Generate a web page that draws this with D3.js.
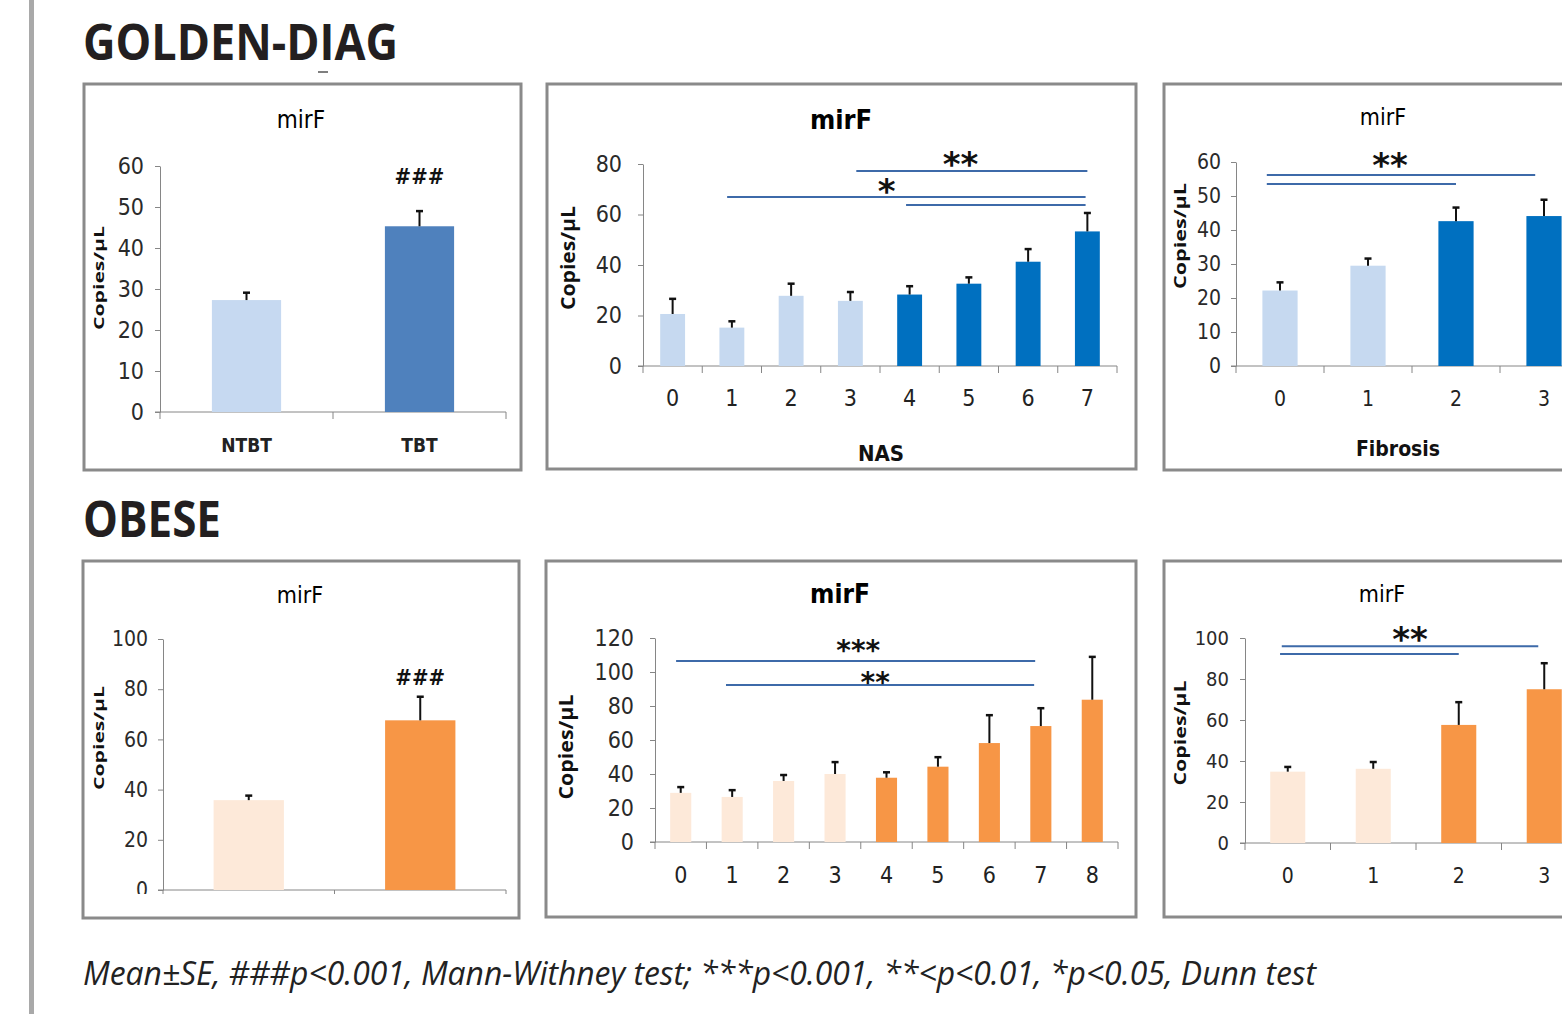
<!DOCTYPE html>
<html>
<head>
<meta charset="utf-8">
<script src="https://cdn.jsdelivr.net/npm/d3@7"></script>
<style>
  html, body { margin: 0; padding: 0; background: #fff; }
  svg { display: block; }
</style>
</head>
<body>
<div id="chart"></div>
<script>
// ---- data ----
const binCats = ["NTBT", "TBT"];
const nasCatsGD = ["0", "1", "2", "3", "4", "5", "6", "7"];
const nasCatsOB = ["0", "1", "2", "3", "4", "5", "6", "7", "8"];
const fibCats = ["0", "1", "2", "3"];

const gdBinMean = [27.3, 45.3];
const gdBinErr = [1.8, 3.7];
const gdNasMean = [20.6, 15.2, 27.8, 25.8, 28.3, 32.6, 41.3, 53.3];
const gdNasErr = [6.0, 2.5, 4.8, 3.5, 3.3, 2.5, 5.0, 7.3];
const gdFibMean = [22.2, 29.5, 42.6, 44.1];
const gdFibErr = [2.4, 2.1, 4.0, 4.8];

const obBinMean = [35.8, 67.6];
const obBinErr = [1.8, 9.4];
const obNasMean = [28.9, 26.5, 35.9, 40.0, 37.8, 44.3, 58.2, 68.2, 83.7];
const obNasErr = [3.4, 4.0, 3.5, 7.0, 3.2, 5.6, 16.4, 10.5, 25.2];
const obFibMean = [34.8, 36.2, 57.6, 75.0];
const obFibErr = [2.3, 3.3, 11.1, 12.7];

// significance bars: from/to in category units, level in data units
const gdNasSig = [
  {from: 3.1, to: 7.0, level: 77.2},
  {from: 0.92, to: 6.97, level: 66.9},
  {from: 3.94, to: 6.97, level: 63.8}
];
const gdNasStars = [{text: "**", at: 4.86, level: 81.8}, {text: "*", at: 3.61, level: 71.2}];
const gdFibSig = [{from: -0.15, to: 2.9, level: 56.2}, {from: -0.15, to: 2.0, level: 53.5}];
const gdFibStars = [{text: "**", at: 1.25, level: 60.6}];
const obNasSig = [{from: -0.09, to: 6.89, level: 106.5}, {from: 0.88, to: 6.87, level: 92.4}];
const obNasStars = [{text: "***", at: 3.45, level: 115.5}, {text: "**", at: 3.78, level: 96.2}];
const obFibSig = [{from: -0.07, to: 2.93, level: 96.0}, {from: -0.09, to: 2.0, level: 92.2}];
const obFibStars = [{text: "**", at: 1.43, level: 102.0}];
const gdBinHash = 57.6;
const obBinHash = 84.9;

const footnote = "Mean±SE, ###p<0.001, Mann-Withney test; ***p<0.001, **<p<0.01, *p<0.05, Dunn test";

// ---- styles ----
const NARROW = "'Liberation Sans Narrow', 'DejaVu Sans Condensed', 'Liberation Sans', sans-serif";
const OPEN = "'Open Sans', 'Noto Sans', sans-serif";
const AXIS = "#868686";
const SIGBLUE = "#3d6aa9";

const W = 1562, H = 1014;
const svg = d3.select("#chart").append("svg").attr("width", W).attr("height", H);

svg.append("rect").attr("x", 29).attr("y", 0).attr("width", 5).attr("height", H).attr("fill", "#a9a9a9");

svg.append("text").attr("x", 83).attr("y", 60).text("GOLDEN-DIAG")
  .attr("textLength", 315).attr("lengthAdjust", "spacingAndGlyphs")
  .style("font-family", OPEN).style("font-weight", 700).style("font-size", "50px").style("fill", "#231f20");
svg.append("line").attr("x1", 318).attr("x2", 328).attr("y1", 72).attr("y2", 72).attr("stroke", "#555").attr("stroke-width", 1.5);
svg.append("text").attr("x", 83).attr("y", 537).text("OBESE")
  .attr("textLength", 138).attr("lengthAdjust", "spacingAndGlyphs")
  .style("font-family", OPEN).style("font-weight", 700).style("font-size", "50px").style("fill", "#231f20");

svg.append("text").attr("x", 83).attr("y", 985).text(footnote)
  .attr("textLength", 1233).attr("lengthAdjust", "spacingAndGlyphs")
  .style("font-family", OPEN).style("font-style", "italic").style("font-size", "33px").style("fill", "#222");

const panels = [
  {box: [84, 84, 437, 386], x0: 160, x1: 506, yTop: 166, yBot: 412, yMax: 60, step: 10,
   cats: binCats, mean: gdBinMean, err: gdBinErr, colors: ["#c6d9f1", "#4f81bd"], darkFrom: 1, barFrac: 0.40,
   tickFont: 23, tickGap: 16, title: {x: 301, y: 128, size: 24, weight: 400}, ylab: {x: 104, y: 278, len: 104, size: 15},
   catLab: {y: 452, size: 19, weight: 700}, hash: "###", hashLevel: gdBinHash, sig: [], stars: []},
  {box: [547, 84, 589, 385], x0: 643, x1: 1117, yTop: 164, yBot: 366, yMax: 80, step: 20,
   cats: nasCatsGD, mean: gdNasMean, err: gdNasErr, colors: ["#c6d9f0", "#0070c0"], darkFrom: 4, barFrac: 0.42,
   tickFont: 23, tickGap: 21, title: {x: 841, y: 129, size: 27, weight: 700}, ylab: {x: 575, y: 258, len: 104, size: 20},
   catLab: {y: 406, size: 23, weight: 400}, xTitle: {text: "NAS", x: 881, y: 461, size: 22},
   sig: gdNasSig, stars: gdNasStars, starSize: 34},
  {box: [1164, 84, 430, 386], x0: 1236, x1: 1588, yTop: 162, yBot: 366, yMax: 60, step: 10,
   cats: fibCats, mean: gdFibMean, err: gdFibErr, colors: ["#c6d9f0", "#0070c0"], darkFrom: 2, barFrac: 0.40,
   tickFont: 21, tickGap: 15, title: {x: 1383, y: 125, size: 23, weight: 400}, ylab: {x: 1186, y: 236, len: 106, size: 16},
   catLab: {y: 406, size: 21, weight: 400}, xTitle: {text: "Fibrosis", x: 1398, y: 456, size: 21},
   sig: gdFibSig, stars: gdFibStars, starSize: 34},
  {box: [83, 561, 436, 357], x0: 163, x1: 506, yTop: 639, yBot: 890, yMax: 100, step: 20,
   cats: binCats, mean: obBinMean, err: obBinErr, colors: ["#fde9d9", "#f79646"], darkFrom: 1, barFrac: 0.41,
   tickFont: 21, tickGap: 15, title: {x: 300, y: 603, size: 23, weight: 400}, ylab: {x: 104, y: 738, len: 104, size: 15},
   catLab: null, hash: "###", hashLevel: obBinHash, clipBottom: 894, sig: [], stars: []},
  {box: [546, 561, 590, 356], x0: 655, x1: 1118, yTop: 638, yBot: 842, yMax: 120, step: 20,
   cats: nasCatsOB, mean: obNasMean, err: obNasErr, colors: ["#fde9d9", "#f79646"], darkFrom: 4, barFrac: 0.41,
   tickFont: 23, tickGap: 21, title: {x: 840, y: 603, size: 26, weight: 700}, ylab: {x: 573, y: 747, len: 105, size: 20},
   catLab: {y: 883, size: 23, weight: 400}, sig: obNasSig, stars: obNasStars, starSize: 28},
  {box: [1164, 561, 430, 356], x0: 1245, x1: 1587, yTop: 638, yBot: 843, yMax: 100, step: 20,
   cats: fibCats, mean: obFibMean, err: obFibErr, colors: ["#fde9d9", "#f79646"], darkFrom: 2, barFrac: 0.41,
   tickFont: 20, tickGap: 16, title: {x: 1382, y: 602, size: 23, weight: 400}, ylab: {x: 1186, y: 733, len: 105, size: 16},
   catLab: {y: 883, size: 21, weight: 400}, sig: obFibSig, stars: obFibStars, starSize: 34}
];

panels.forEach((p, pi) => drawPanel(p, pi));

function drawPanel(p, pi) {
  const [bx, by, bw, bh] = p.box;
  svg.append("rect").attr("x", bx).attr("y", by).attr("width", bw).attr("height", bh)
    .attr("fill", "#fff").attr("stroke", "#8a8a8a").attr("stroke-width", 3);

  let g = svg.append("g");
  if (p.clipBottom) {
    svg.append("clipPath").attr("id", "clip" + pi).append("rect")
      .attr("x", bx).attr("y", by).attr("width", bw).attr("height", p.clipBottom - by);
    g.attr("clip-path", `url(#clip${pi})`);
  }

  const x = d3.scaleBand().domain(p.cats).range([p.x0, p.x1]).padding(0);
  const y = d3.scaleLinear().domain([0, p.yMax]).range([p.yBot, p.yTop]);
  const stepW = x.step();
  const barW = stepW * p.barFrac;
  const cx = i => p.x0 + (i + 0.5) * stepW;

  // title
  g.append("text").attr("x", p.title.x).attr("y", p.title.y).attr("text-anchor", "middle").text("mirF")
    .style("font-family", NARROW).style("font-size", p.title.size + "px").style("font-weight", p.title.weight).style("fill", "#000");

  // y axis
  const yAxis = d3.axisLeft(y).tickValues(d3.range(0, p.yMax + 1, p.step))
    .tickSize(5).tickSizeOuter(0).tickPadding(p.tickGap - 5);
  const ya = g.append("g").attr("transform", `translate(${p.x0},0)`).call(yAxis);
  ya.select(".domain").attr("stroke", AXIS);
  ya.selectAll(".tick line").attr("stroke", AXIS);
  ya.selectAll(".tick text").style("font-family", NARROW).style("font-size", p.tickFont + "px").style("fill", "#2a2a2a");

  // x axis line + boundary ticks
  g.append("line").attr("x1", p.x0 - 5).attr("x2", p.x1).attr("y1", p.yBot).attr("y2", p.yBot).attr("stroke", AXIS);
  g.selectAll(null).data(d3.range(p.cats.length + 1)).join("line")
    .attr("x1", i => p.x0 + i * stepW).attr("x2", i => p.x0 + i * stepW)
    .attr("y1", p.yBot).attr("y2", p.yBot + 7).attr("stroke", AXIS);

  // bars
  g.selectAll(null).data(p.mean).join("rect")
    .attr("x", (d, i) => x(p.cats[i]) + (stepW - barW) / 2)
    .attr("y", d => y(d)).attr("width", barW).attr("height", d => p.yBot - y(d))
    .attr("fill", (d, i) => i >= p.darkFrom ? p.colors[1] : p.colors[0]);

  // error bars
  const eb = g.selectAll(null).data(p.mean.map((m, i) => ({m, e: p.err[i], i}))).join("g");
  eb.append("line").attr("x1", d => cx(d.i)).attr("x2", d => cx(d.i))
    .attr("y1", d => y(d.m)).attr("y2", d => y(d.m + d.e)).attr("stroke", "#111").attr("stroke-width", 2);
  eb.append("line").attr("x1", d => cx(d.i) - 3.5).attr("x2", d => cx(d.i) + 3.5)
    .attr("y1", d => y(d.m + d.e)).attr("y2", d => y(d.m + d.e)).attr("stroke", "#111").attr("stroke-width", 2.5);

  // category labels
  if (p.catLab) {
    g.selectAll(null).data(p.cats).join("text")
      .attr("x", d => x(d) + stepW / 2).attr("y", p.catLab.y).attr("text-anchor", "middle").text(d => d)
      .style("font-family", NARROW).style("font-size", p.catLab.size + "px").style("font-weight", p.catLab.weight).style("fill", "#222");
  }
  if (p.xTitle) {
    g.append("text").attr("x", p.xTitle.x).attr("y", p.xTitle.y).attr("text-anchor", "middle").text(p.xTitle.text)
      .style("font-family", NARROW).style("font-size", p.xTitle.size + "px").style("font-weight", 700).style("fill", "#111");
  }

  // y title
  g.append("text").attr("transform", `translate(${p.ylab.x},${p.ylab.y}) rotate(-90)`)
    .attr("text-anchor", "middle").text("Copies/µL")
    .attr("textLength", p.ylab.len).attr("lengthAdjust", "spacingAndGlyphs")
    .style("font-family", OPEN).style("font-weight", 700).style("font-size", p.ylab.size + "px").style("fill", "#111");

  // ### over the second group
  if (p.hash) {
    const last = p.mean.length - 1;
    g.append("text").attr("x", cx(last)).attr("y", y(p.hashLevel) + 8)
      .attr("text-anchor", "middle").text(p.hash)
      .style("font-family", NARROW).style("font-size", "22px").style("font-weight", 700).style("fill", "#111");
  }

  // significance lines and stars
  g.selectAll(null).data(p.sig).join("line")
    .attr("x1", d => cx(d.from)).attr("x2", d => cx(d.to))
    .attr("y1", d => y(d.level)).attr("y2", d => y(d.level))
    .attr("stroke", SIGBLUE).attr("stroke-width", 2);
  const fs = p.starSize || 34;
  g.selectAll(null).data(p.stars).join("text")
    .attr("x", d => cx(d.at)).attr("y", d => y(d.level) + fs * 0.5)
    .attr("text-anchor", "middle").text(d => d.text)
    .style("font-family", "'DejaVu Sans', sans-serif").style("font-weight", 700).style("font-size", fs + "px").style("fill", "#111");
}
</script>
</body>
</html>
